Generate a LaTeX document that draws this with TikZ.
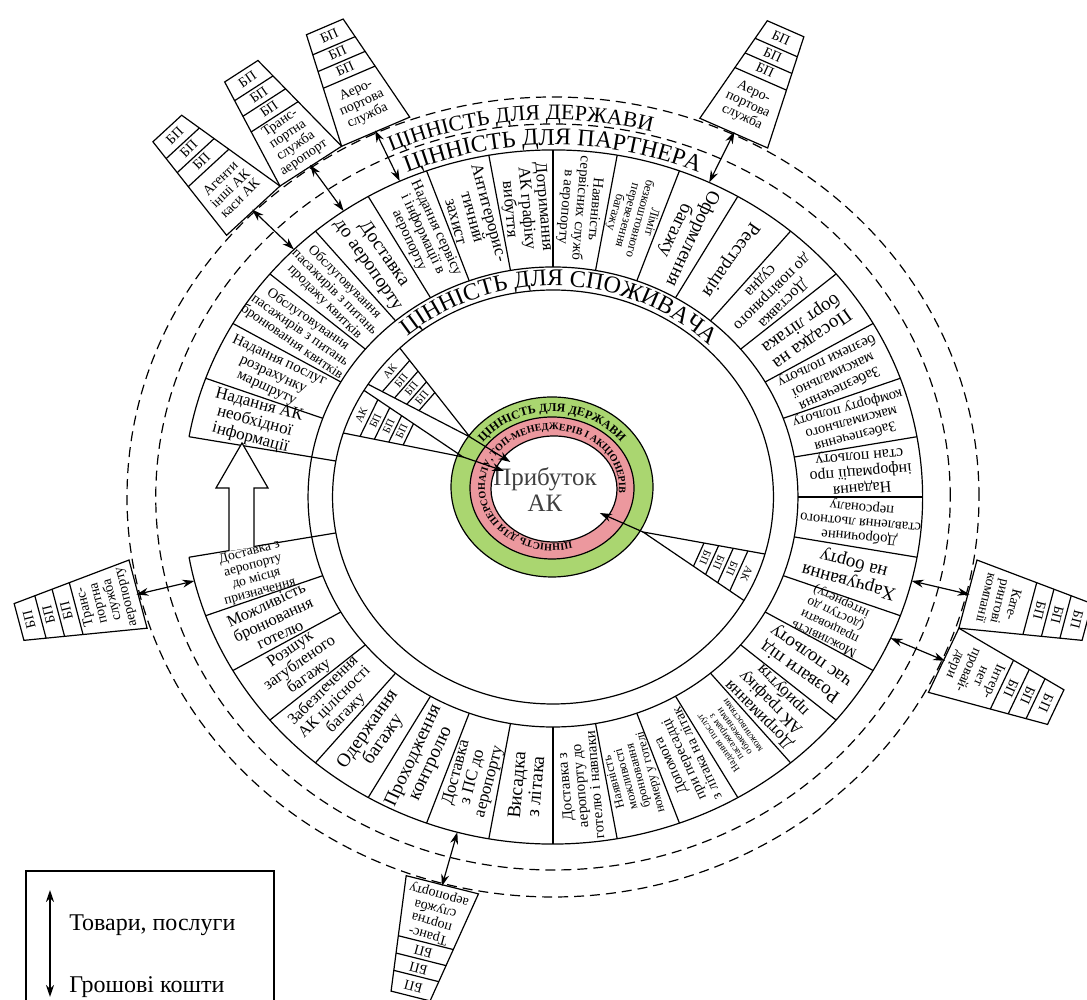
\documentclass[tikz,border=0pt]{standalone}
\usepackage{fontspec}
\setmainfont{Liberation Serif}
\usetikzlibrary{arrows.meta,calc,decorations.text}

\definecolor{stategreen}{RGB}{170,214,112}
\definecolor{staffpink}{RGB}{236,152,158}

\begin{document}
\begin{tikzpicture}[x=0.5pt,y=0.5pt,line width=0.6pt,
  >={Stealth[length=6pt,width=4pt]},
  cell/.style={align=center,inner sep=0pt},
  tabtext/.style={align=center,inner sep=0pt,font=\fontsize{7}{7}\selectfont},
  tiny/.style={inner sep=0pt,font=\fontsize{5.5}{5.5}\selectfont},
  guide/.style={dash pattern=on 5pt off 3pt},
  ringtext/.style={decorate,decoration={text along path,text align=center}}]
  \useasboundingbox (0,0) rectangle (1087,1000);

  % profit core
  \begin{scope}[shift={(552,513)}]
    \filldraw[fill=stategreen] (0,0) ellipse [x radius=101,y radius=90];
    \filldraw[fill=staffpink] (0,-1) ellipse [x radius=82,y radius=71];
    \filldraw[fill=white] (2,-2) ellipse [x radius=63,y radius=53];
    \path[ringtext,decoration={text={|\fontsize{6}{6}\selectfont\bfseries|ЦІННІСТЬ ДЛЯ ДЕРЖАВИ}}]
      (150:86 and 75) arc[start angle=150,end angle=30,x radius=86,y radius=75];
    \path[ringtext,decoration={text={|\fontsize{5}{5}\selectfont\bfseries|ЦІННІСТЬ ДЛЯ ПЕРСОНАЛУ, ТОП-МЕНЕДЖЕРІВ І АКЦІОНЕРІВ}}]
      (290:67 and 57) arc[start angle=290,end angle=-10,x radius=67,y radius=57];
    \node[font=\fontsize{12.5}{13}\selectfont,align=center,text=black!75] (profit) at (-7,-3) {Прибуток\\АК};
  \end{scope}

  \begin{scope}[shift={(553,503)},xscale=1.065]
    % rings
    \draw (0,0) circle (207);
    \draw (0,0) circle (230);
    \draw (-170:347) arc (-170:170:347);
    \draw[guide] (0,0) circle (373);
    \draw[guide] (0,0) circle (400);
    \foreach \a in {0,10,...,160}
      \draw (\a:230) -- (\a:347);
    \foreach \a in {200,210,...,350}
      \draw (\a:230) -- (\a:347);
    \draw (170:207) -- (170:347);
    \draw (190:207) -- (190:347);

    % ring titles
    \path[ringtext,decoration={text={|\fontsize{12}{12}\selectfont|ЦІННІСТЬ ДЛЯ СПОЖИВАЧА}}]
      (160:211) arc (160:16:211);
    \path[ringtext,decoration={text={|\fontsize{12}{12}\selectfont|ЦІННІСТЬ ДЛЯ ПАРТНЕРА}}]
      (160:352) arc (160:20:352);
    \path[ringtext,decoration={text={|\fontsize{11}{11}\selectfont|ЦІННІСТЬ ДЛЯ ДЕРЖАВИ}}]
      (165:377) arc (165:25:377);

    % value cells
    \foreach \a/\fs/\t in {
      0/8/{Надання\\інформації про\\стан польоту},
      10/7.3/{Забезпечення\\максимального\\комфорту польоту},
      20/7.6/{Забезпечення\\максимальної\\безпеки польоту},
      30/9.5/{Посадка на\\борт літака},
      40/8/{Доставка\\до повітряного\\судна},
      50/9.5/{Реєстрація},
      60/9.5/{Оформлення\\багажу},
      70/6.3/{Ліміт\\безкоштовного\\перевезення\\багажу},
      80/7.4/{Наявність\\сервісних служб\\в аеропорту},
      90/8.5/{Дотримання\\АК графіку\\вибуття},
      100/8.5/{Антитерорис-\\тичний\\захист},
      110/7.4/{Надання сервісу\\і інформації в\\аеропорту},
      120/9.5/{Доставка\\до аеропорту},
      130/7/{Обслуговування\\пасажирів з питань\\продажу квитків},
      140/7/{Обслуговування\\пасажирів з питань\\бронювання квитків},
      150/7.5/{Надання послуг\\розрахунку\\маршруту},
      160/8.5/{Надання АК\\необхідної\\інформації},
      190/6.8/{Доставка з\\аеропорту\\до місця\\призначення},
      200/8.2/{Можливість\\бронювання\\готелю},
      210/8.2/{Розшук\\загубленого\\багажу},
      220/8/{Забезпечення\\АК цілісності\\багажу},
      230/9.5/{Одержання\\багажу},
      240/9.5/{Проходження\\контролю},
      250/8.5/{Доставка\\з ПС до\\аеропорту},
      260/9.5/{Висадка\\з літака},
      270/7.5/{Доставка з\\аеропорту до\\готелю і навпаки},
      280/6.3/{Наявність\\можливості\\бронювання\\номеру у готелі},
      290/7.3/{Допомога\\при пересадці\\з літака на літак},
      300/5/{Надання послуг\\пасажирам з\\обмеженими\\можливостями},
      310/8.5/{Дотримання\\АК графіку\\прибуття},
      320/9.5/{Розваги під\\час польоту},
      330/6.8/{Можливість\\працювати\\(доступ до\\інтернету)},
      340/9.5/{Харчування\\на борту},
      350/7.3/{Доброчинне\\ставлення льотного\\персоналу}}
      \node[cell,font=\fontsize{\fs}{\fs}\selectfont,rotate=\a+185] at (\a+5:290) {\t};

    % wedges towards the profit
    \coordinate (apexA) at (-78,60);
    \coordinate (apexB) at (-84.5,40);
    \coordinate (apexC) at (84.5,-35);
    \coordinate (outA1) at (134:207);
    \coordinate (outA2) at (147:207);
    \coordinate (outB1) at (149:207);
    \coordinate (outB2) at (162:207);
    \coordinate (outC1) at (-16:207);
    \coordinate (outC2) at (-30:207);
    \coordinate (tipA) at (-40,35);
    \coordinate (tipB) at (-46,26);
    \coordinate (tipC) at (44,-16);
    \foreach \w/\r in {A/50,B/65,C/-113} {
      \draw (out\w1) -- (apex\w) -- (out\w2);
      \draw[->] (apex\w) -- (tip\w);
      \foreach \s in {0.5,0.62,0.74,0.86}
        \draw ($(apex\w)!\s!(out\w1)$) -- ($(apex\w)!\s!(out\w2)$);
      \coordinate (mid\w) at ($(out\w1)!0.5!(out\w2)$);
      \foreach \s/\t in {0.56/БП,0.68/БП,0.8/БП,0.93/АК}
        \node[tiny,rotate=\r] at ($(apex\w)!\s!(mid\w)$) {\t};
    }

    % outside partners
    \foreach \a/\t [count=\i] in {
      134.5/{Агенти\\інші АК\\каси АК},
      124.5/{Транс-\\портна\\служба\\аеропорт},
      114.5/{Аеро-\\портова\\служба},
      65/{Аеро-\\портова\\служба},
      -14/{Кате-\\рингові\\компанії},
      -24/{Інтер-\\нет\\провай-\\дери},
      255/{Транс-\\портна\\служба\\аеропорту},
      194/{Транс-\\портна\\служба\\аеропорту}} {
      \coordinate (bl\i) at (\a+5:403);
      \coordinate (br\i) at (\a-5:403);
      \coordinate (tl\i) at (\a+2.1:517);
      \coordinate (tr\i) at (\a-2.1:517);
      \coordinate (foot\i) at (\a:403);
      \coordinate (head\i) at (\a:517);
      \draw[fill=white] (bl\i) -- (tl\i) -- (tr\i) -- (br\i) -- cycle;
      \foreach \s in {0.52,0.67,0.82}
        \draw ($(bl\i)!\s!(tl\i)$) -- ($(br\i)!\s!(tr\i)$);
      \foreach \s in {0.595,0.745,0.91}
        \node[tabtext,rotate=\a-90] at ($(foot\i)!\s!(head\i)$) {БП};
      \node[tabtext,rotate=\a-90] (tab\i) at ($(foot\i)!0.26!(head\i)$) {\t};
      \coordinate (rim\i) at (\a:347);
      \draw[<->] (foot\i) -- (rim\i);
    }
  \end{scope}

  % hollow arrow between the left cells
  \draw[fill=white] (229,449) -- (229,512) -- (216,512) -- (242,557)
    -- (268,512) -- (254,512) -- (254,453);

  % legend
  \draw (26,0) -- (26,129) -- (274,129) -- (274,0);
  \coordinate (lgtop) at (50,110);
  \coordinate (lgbot) at (50,3);
  \draw[<->,line width=1pt] (lgtop) -- (lgbot);
  \node[anchor=west,font=\fontsize{12}{12}\selectfont] (goods) at (62,75) {Товари, послуги};
  \node[anchor=west,font=\fontsize{12}{12}\selectfont] (money) at (62,13) {Грошові кошти};
\end{tikzpicture}
\end{document}
